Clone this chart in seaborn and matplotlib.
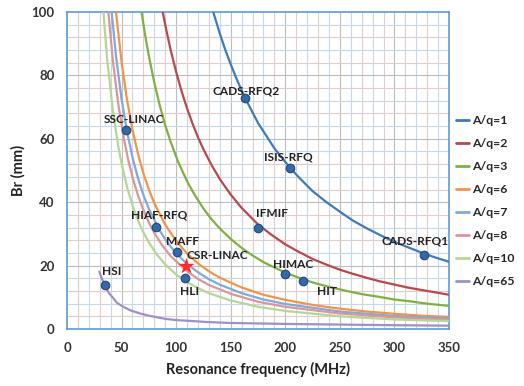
import matplotlib
matplotlib.use("Agg")
import matplotlib.pyplot as plt
import seaborn as sns
import pandas as pd

# ---- data ----
labels = ["A/q=1", "A/q=2", "A/q=3", "A/q=6", "A/q=7", "A/q=8", "A/q=10", "A/q=65"]
colors = ["#3f7bbb", "#b9484b", "#80b043", "#f29447", "#80a9dc", "#d9979b", "#b5d694", "#9e90c8"]

f1 = [134, 140, 145, 150, 156, 163, 169, 175, 182, 190, 197, 204, 212, 225, 237, 250,
      262, 275, 287, 300, 313, 327, 338, 350]
b1 = [100, 93.2, 88.1, 83.5, 78.4, 73, 69, 65, 61.3, 57, 54, 51, 48, 43.5, 40.2, 37,
      34.2, 31.7, 29.6, 27.5, 25.7, 23.8, 22.5, 21.2]

f2 = [87.7, 91, 95, 100, 105, 110, 115, 120, 125, 132, 140, 150, 160, 175, 187, 200,
      212, 225, 237, 250, 262, 275, 287, 300, 312, 325, 337, 350]
b2 = [100, 94.3, 88, 81.1, 75, 69.6, 64.8, 60.5, 56.7, 52, 47.3, 42.4, 38.2, 33, 29.8, 26.7,
      24.4, 22.1, 20.4, 18.7, 17.4, 16.1, 15.0, 14.0, 13.1, 12.3, 11.6, 10.8]

f3 = [68.3, 71.5, 75, 80, 85, 90, 95, 102, 110, 117, 125, 132, 140, 150, 160, 170, 180,
      190, 200, 216, 228, 240, 255, 270, 285, 300, 315, 325, 338, 350]
b3 = [100, 92.9, 86.1, 77.7, 70.5, 64.3, 59, 52.6, 46.6, 42.3, 38, 34.8, 31.7, 28.4, 25.6,
      23.2, 21.1, 19.4, 17.8, 15.7, 14.4, 13.3, 12.1, 11.0, 10.2, 9.3, 8.7, 8.2, 7.7, 7.3]

f6 = [44.9, 50, 55, 60, 65, 70, 75, 80, 90, 100, 110, 120, 130, 140, 160, 180, 200, 225,
      250, 275, 300, 325, 350]
b6 = [100, 84.2, 72.3, 62.9, 55.3, 49.1, 44.0, 39.7, 32.9, 27.8, 23.8, 20.7, 18.2, 16.2,
      13.1, 10.8, 9.2, 7.6, 6.4, 5.5, 4.8, 4.2, 3.8]

f7 = [40.9, 45, 50, 55, 60, 65, 70, 75, 85, 92, 100, 110, 120, 130, 140, 160, 180, 200,
      250, 300, 350]
b7 = [100, 85.8, 72.5, 62.3, 54.2, 47.6, 42.3, 37.9, 31.0, 27.3, 23.9, 20.5, 17.9, 15.7,
      14.0, 11.3, 9.3, 7.9, 5.5, 4.1, 3.3]

f8 = [37.9, 42, 47, 52, 56, 60, 65, 70, 75, 80, 87, 95, 110, 120, 130, 150, 175, 200,
      250, 300, 350]
b8 = [100, 84.8, 70.9, 60.3, 53.5, 47.9, 42.2, 37.5, 33.6, 30.3, 26.5, 23.0, 18.2, 15.8,
      13.9, 11.1, 8.6, 7.0, 4.9, 3.65, 2.9]

f10 = [33.3, 37, 42, 47, 50, 55, 60, 65, 70, 75, 82, 90, 100, 110, 120, 130, 150, 175,
       200, 250, 300, 350]
b10 = [100, 84.5, 69, 57.6, 52.2, 44.8, 39.0, 34.3, 30.5, 27.3, 23.6, 20.4, 17.2, 14.8,
       12.9, 11.3, 9.0, 7.0, 5.7, 4.0, 3.0, 2.5]

f65 = [29.6, 32, 34.8, 38, 42.4, 46, 51.6, 58, 66.9, 75, 82.2, 90, 100.5, 115, 128, 150,
       175, 200, 250, 300, 350]
b65 = [18.1, 15.8, 13.9, 11.5, 9.7, 8.2, 7.0, 5.9, 4.9, 4.2, 3.7, 3.2, 2.8, 2.5, 2.2, 1.9,
       1.75, 1.6, 1.4, 1.2, 1.05]

curve_f = [f1, f2, f3, f6, f7, f8, f10, f65]
curve_b = [b1, b2, b3, b6, b7, b8, b10, b65]

pt_names = ["SSC-LINAC", "CADS-RFQ2", "ISIS-RFQ", "CADS-RFQ1", "HIAF-RFQ", "MAFF",
            "HLI", "HSI", "IFMIF", "HIMAC", "HIT"]
pt_f = [54.1, 163, 204, 327, 81.3, 100.5, 108.1, 34.8, 175, 199.5, 216]
pt_b = [62.8, 72.9, 50.8, 23.4, 32.2, 24.2, 16.1, 13.9, 32, 17.3, 15.0]
lab_f = [61, 164, 202.6, 319, 84.3, 105.4, 112.4, 41.3, 188, 207, 238]
lab_b = [66.2, 75.2, 54.4, 27.7, 36.1, 27.7, 11.7, 18.2, 36.3, 20.3, 11.7]

star_name = "CSR-LINAC"
star_f = [108.7]
star_b = [20.0]
star_lab = (109.5, 23.1)

# ---- build long table ----
rows = []
for lab, fs, bs in zip(labels, curve_f, curve_b):
    for fv, bv in zip(fs, bs):
        rows.append({"f": fv, "Br": bv, "series": lab})
df = pd.DataFrame(rows)
pts = pd.DataFrame({"f": pt_f, "Br": pt_b, "name": pt_names})

sns.set_theme(style="white")
plt.rcParams["font.family"] = ["Lato", "DejaVu Sans"]

fig = plt.figure(figsize=(5.24, 3.86), dpi=100)
ax = fig.add_axes([67 / 524, 1 - 329 / 386, 382 / 524, 317 / 386])

# grid
for v in range(10, 350, 10):
    c = "#bdbdbd" if v % 50 == 0 else ("#c6d8ea" if (v // 10) % 2 == 0 else "#e2cccc")
    ax.axvline(v, color=c, lw=0.8, zorder=0)
for h in range(4, 100, 4):
    c = "#bdbdbd" if h % 20 == 0 else ("#c6d8ea" if (h // 4) % 2 == 0 else "#e2cccc")
    ax.axhline(h, color=c, lw=0.8, zorder=0)

sns.lineplot(data=df, x="f", y="Br", hue="series", hue_order=labels,
             palette=colors, sort=False, estimator=None, units="series",
             lw=1.6, ax=ax, legend=False, zorder=3)

sns.scatterplot(data=pts, x="f", y="Br", color="#3568a6", edgecolor="#1d4a7a",
                linewidth=0.8, s=38, ax=ax, legend=False, zorder=5)
ax.scatter(star_f, star_b, marker="*", s=150, color="#ff2a2a", zorder=6, linewidths=0)

for n, x, y in zip(pt_names, lab_f, lab_b):
    ax.text(x, y, n, ha="center", va="center", fontsize=8.6, fontweight="bold",
            color="#222222", zorder=7)
ax.text(star_lab[0], star_lab[1], star_name, ha="left", va="center", fontsize=8.6,
        fontweight="bold", color="#222222", zorder=7)

ax.set_xlim(0, 350)
ax.set_ylim(0, 100)
ax.set_xticks(range(0, 351, 50))
ax.set_yticks(range(0, 101, 20))
ax.tick_params(axis="both", labelsize=9.5, colors="#333333", length=4, width=1,
               direction="out", pad=5)
ax.tick_params(axis="both", color="#5b9bd5")
for t in ax.get_xticklabels() + ax.get_yticklabels():
    t.set_fontweight("bold")
for s in ax.spines.values():
    s.set_color("#5b9bd5")
    s.set_linewidth(1.2)

ax.set_xlabel("Resonance frequency (MHz)", fontsize=10.5, fontweight="bold",
              color="#222222", labelpad=6)
ax.set_ylabel("Br (mm)", fontsize=10.5, fontweight="bold", color="#222222", labelpad=4)

handles = [plt.Line2D([], [], color=c, lw=2) for c in colors]
ax.legend(handles, labels, loc="center left", bbox_to_anchor=(1.018, 0.404),
          frameon=False, handlelength=1.1, handletextpad=0.2,
          labelspacing=0.98, borderpad=0, borderaxespad=0,
          prop={"weight": "bold", "size": 8.8})

fig.savefig("out.png", dpi=100)
